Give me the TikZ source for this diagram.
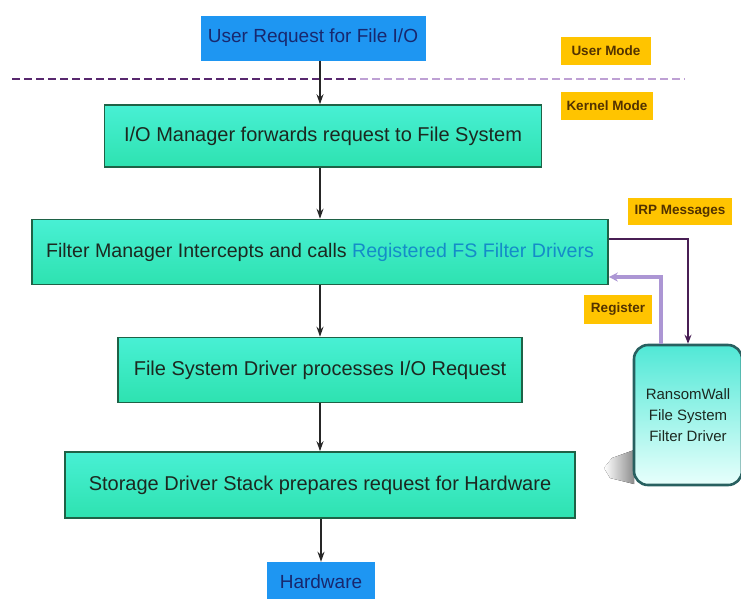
\documentclass[tikz,border=0pt]{standalone}
\usepackage{fontspec}
\setmainfont{Liberation Sans}
\usetikzlibrary{arrows.meta}

\tikzset{
  stepbox/.style={draw=boxborder, line width=1.6pt, top color=boxtop, bottom color=boxbottom,
    minimum height=64pt, inner sep=0pt, text=boxtext, font=\fontsize{20}{22}\selectfont},
  bluebox/.style={fill=bluefill, inner sep=0pt, text=bluetext, font=\fontsize{19}{21}\selectfont},
  modelabel/.style={fill=labelfill, inner sep=0pt, minimum height=28pt, text=labeltext,
    font=\bfseries\fontsize{13.5}{15}\selectfont},
  flow/.style={-{Stealth[length=10pt,width=7pt]}, line width=1.5pt, black!85},
}

\begin{document}
\begin{tikzpicture}[x=1pt,y=-1pt]
    \definecolor{boxtop}{RGB}{72,240,212}
    \definecolor{boxbottom}{RGB}{46,226,176}
    \definecolor{boxborder}{RGB}{30,98,70}
    \definecolor{boxtext}{RGB}{28,40,32}
    \definecolor{bluefill}{RGB}{30,150,242}
    \definecolor{bluetext}{RGB}{24,40,110}
    \definecolor{labelfill}{RGB}{255,196,0}
    \definecolor{labeltext}{RGB}{82,50,0}
    \definecolor{regblue}{RGB}{20,140,200}
    \definecolor{dashdark}{RGB}{88,40,110}
    \definecolor{dashlight}{RGB}{190,160,212}
    \definecolor{irpline}{RGB}{72,30,84}
    \definecolor{regline}{RGB}{172,150,212}
    \definecolor{rwtop}{RGB}{80,232,214}
    \definecolor{rwbottom}{RGB}{232,255,252}
    \definecolor{rwborder}{RGB}{40,96,96}

    \useasboundingbox (0,0) rectangle (741,598);

    % User mode / kernel mode
    \node[bluebox, minimum width=225pt, minimum height=45pt] (userreq) at (313,38) {User Request for File I/O};
    \draw[dashdark, line width=1.6pt, dash pattern=on 8pt off 4pt] (12,79) -- (360,79);
    \draw[dashlight, line width=1.6pt, dash pattern=on 8pt off 4pt] (360,79) -- (685,79);
    \node[modelabel, minimum width=90pt] (usermode) at (606,51) {User Mode};
    \node[modelabel, minimum width=92pt] (kernelmode) at (607,106) {Kernel Mode};

    % Kernel stack
    \node[stepbox, minimum width=437pt, minimum height=62pt] (iomgr) at (323,136) {I/O Manager forwards request to File System};
    \node[stepbox, minimum width=576pt, minimum height=65pt] (filter) at (320,252) {\fontsize{19.6}{22}\selectfont Filter Manager Intercepts and calls \textcolor{regblue}{Registered FS Filter Drivers}};
    \node[stepbox, minimum width=404pt, minimum height=65pt] (fsdrv) at (320,370) {File System Driver processes I/O Request};
    \node[stepbox, minimum width=510pt, minimum height=66pt] (storage) at (320,485) {Storage Driver Stack prepares request for Hardware};
    \node[bluebox, minimum width=108pt, minimum height=40pt] (hardware) at (321,582) {Hardware};

    \draw[flow] (userreq.south -| fsdrv) -- (iomgr.north -| fsdrv);
    \draw[flow] (iomgr.south -| fsdrv) -- (filter.north -| fsdrv);
    \draw[flow] (filter) -- (fsdrv);
    \draw[flow] (fsdrv) -- (storage);
    \draw[flow] (storage.south -| hardware) -- (hardware);

    % Filter driver
    \fill[left color=white, right color=black!45] (634,450) -- (612,458) -- (604,468) -- (610,478) -- (634,484) -- cycle;
    \node[draw=rwborder, line width=2.6pt, rounded corners=14pt, top color=rwtop, bottom color=rwbottom,
      minimum width=108pt, minimum height=140pt, align=center, text=boxtext,
      font=\fontsize{15}{21}\selectfont] (ransom) at (688,415)
      {RansomWall\\File System\\Filter Driver};
    \node[modelabel, minimum width=104pt, minimum height=27pt] (irp) at (680,211) {IRP Messages};
    \node[modelabel, minimum width=68pt, minimum height=29pt] (register) at (618,309) {Register};

    \draw[irpline, line width=1.8pt, -{Stealth[length=9pt,width=7pt]}] ([yshift=13pt]filter.east) -| (ransom.north);
    \draw[regline, line width=3.5pt, -{Stealth[length=9pt,width=9pt]}] ([xshift=-27pt]ransom.north) |- ([yshift=-25pt]filter.east);
\end{tikzpicture}
\end{document}
